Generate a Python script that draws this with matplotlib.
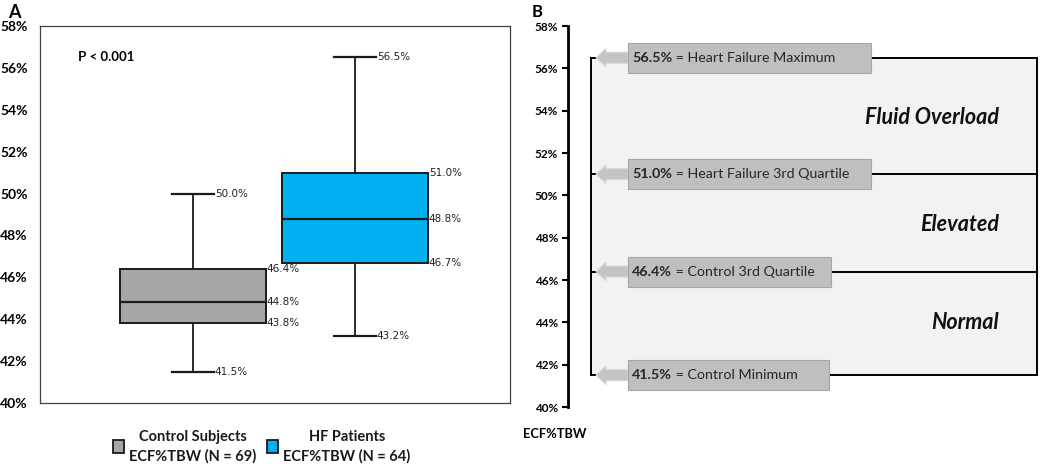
import matplotlib.pyplot as plt
import matplotlib.patches as patches

plt.rcParams['font.family'] = ['Lato', 'DejaVu Sans']

# Panel A data: five-number summaries (%)
groups = ["Control Subjects\nECF%TBW (N = 69)", "HF Patients\nECF%TBW (N = 64)"]
mins = [41.5, 43.2]
q1s = [43.8, 46.7]
medians = [44.8, 48.8]
q3s = [46.4, 51.0]
maxs = [50.0, 56.5]
box_colors = ["#a6a6a6", "#00b0f0"]
p_text = "P < 0.001"

# Panel B data: thresholds
thr_values = [56.5, 51.0, 46.4, 41.5]
thr_labels = ["Heart Failure Maximum", "Heart Failure 3rd Quartile",
              "Control 3rd Quartile", "Control Minimum"]
zones = ["Fluid Overload", "Elevated", "Normal"]
zone_y = [53.7, 48.6, 44.0]

yticks = [40, 42, 44, 46, 48, 50, 52, 54, 56, 58]

fig = plt.figure(figsize=(10.63, 4.69), dpi=100)

# ---------------- Panel A ----------------
axA = fig.add_axes([40 / 1063, 1 - 403 / 469, 470 / 1063, 377 / 469])
stats = []
for i in range(len(groups)):
    stats.append({"whislo": mins[i], "q1": q1s[i], "med": medians[i],
                  "q3": q3s[i], "whishi": maxs[i], "fliers": []})
pos = [1, 2]
bp = axA.bxp(stats, positions=pos, widths=0.907, patch_artist=True,
             showfliers=False, capwidths=0.26,
             boxprops=dict(linewidth=1.4, edgecolor="#1a1a1a"),
             medianprops=dict(color="#1a1a1a", linewidth=1.6),
             whiskerprops=dict(color="#1a1a1a", linewidth=1.3),
             capprops=dict(color="#1a1a1a", linewidth=1.6))
for patch, c in zip(bp["boxes"], box_colors):
    patch.set_facecolor(c)

for i in range(len(groups)):
    for v in (q1s[i], medians[i], q3s[i]):
        axA.text(pos[i] + 0.455, v, "%.1f%%" % v, ha="left", va="center",
                 fontsize=7.5, family="DejaVu Sans", color="#222222")
    for v in (mins[i], maxs[i]):
        axA.text(pos[i] + 0.135, v, "%.1f%%" % v, ha="left", va="center",
                 fontsize=7.5, family="DejaVu Sans", color="#222222")

axA.set_xlim(0.0556, 0.0556 + 470 / 162)
axA.set_ylim(40, 58)
axA.set_yticks(yticks)
axA.set_yticklabels(["%d%%" % t for t in yticks], fontweight="bold", fontsize=10)
axA.tick_params(axis="y", length=0, pad=9)
axA.set_xticks([])
for s in axA.spines.values():
    s.set_linewidth(0.9)
    s.set_color("#404040")
axA.text(0.081, 0.918, p_text, transform=axA.transAxes, fontsize=9.5,
         fontweight="bold", va="center")
fig.text(8 / 1063, 1 - 12 / 469, "A", fontsize=13, fontweight="bold", va="center")

# legend below panel A
leg_sq_x = [113, 267]
leg_txt_x = [193, 347]
for i in range(len(groups)):
    fig.patches.append(patches.Rectangle(
        (leg_sq_x[i] / 1063, 1 - 453 / 469), 11 / 1063, 13 / 469,
        transform=fig.transFigure, facecolor=box_colors[i],
        edgecolor="#1a1a1a", linewidth=1.3))
    fig.text(leg_txt_x[i] / 1063, 1 - 447 / 469, groups[i], ha="center",
             va="center", fontsize=10.5, fontweight="bold",
             linespacing=1.45, color="#1a1a1a")

# ---------------- Panel B ----------------
axB = fig.add_axes([568 / 1063, 1 - 407 / 469, 495 / 1063, 381 / 469])
axB.set_xlim(0, 495)
axB.set_ylim(40, 58)
for side in ("top", "right", "bottom"):
    axB.spines[side].set_visible(False)
axB.spines["left"].set_linewidth(2)
axB.set_xticks([])
axB.set_yticks(yticks)
axB.set_yticklabels(["%d%%" % t for t in yticks], fontweight="bold", fontsize=8.5)
axB.tick_params(axis="y", length=4, width=1.5, pad=3)

x_left, x_right = 23, 469
top, bot = max(thr_values), min(thr_values)
axB.add_patch(patches.Rectangle((x_left, bot), x_right - x_left, top - bot,
                                facecolor="#f2f2f2", edgecolor="none", zorder=0))
axB.plot([x_left, x_left], [bot, top], color="black", lw=1.4, zorder=1)
axB.plot([x_right, x_right], [bot, top], color="black", lw=1.4, zorder=1)
box_right = [303, 303, 263, 261]
for v, lab, br in zip(thr_values, thr_labels, box_right):
    axB.plot([x_left, x_right], [v, v], color="black", lw=1.4, zorder=1)
    axB.add_patch(patches.FancyArrow(60, v, -32, 0, width=0.52, head_width=0.88,
                                     head_length=10, length_includes_head=True,
                                     facecolor="#c4c4c4", edgecolor="#d9d9d9",
                                     lw=0.8, zorder=2))
    axB.add_patch(patches.Rectangle((60, v - 0.71), br - 60, 1.42,
                                    facecolor="#bfbfbf", edgecolor="#a6a6a6",
                                    lw=0.8, zorder=3))
    t = axB.text(64, v, "%.1f%%" % v, fontweight="bold", fontsize=10.3,
                 va="center", ha="left", color="#262626", zorder=4)
    axB.annotate(" = " + lab, xycoords=t, xy=(1, 0.5), va="center",
                 ha="left", fontsize=10.3, color="#262626", zorder=4)

for z, zy in zip(zones, zone_y):
    axB.text(431, zy, z, ha="right", va="center", fontsize=15.5,
             fontweight="bold", fontstyle="italic", color="#111111")

fig.text(523 / 1063, 1 - 434 / 469, "ECF%TBW", fontsize=9.3, fontweight="bold",
         va="center")
fig.text(532 / 1063, 1 - 12 / 469, "B", fontsize=12, fontweight="bold", va="center")

fig.savefig("out.png", dpi=100)
